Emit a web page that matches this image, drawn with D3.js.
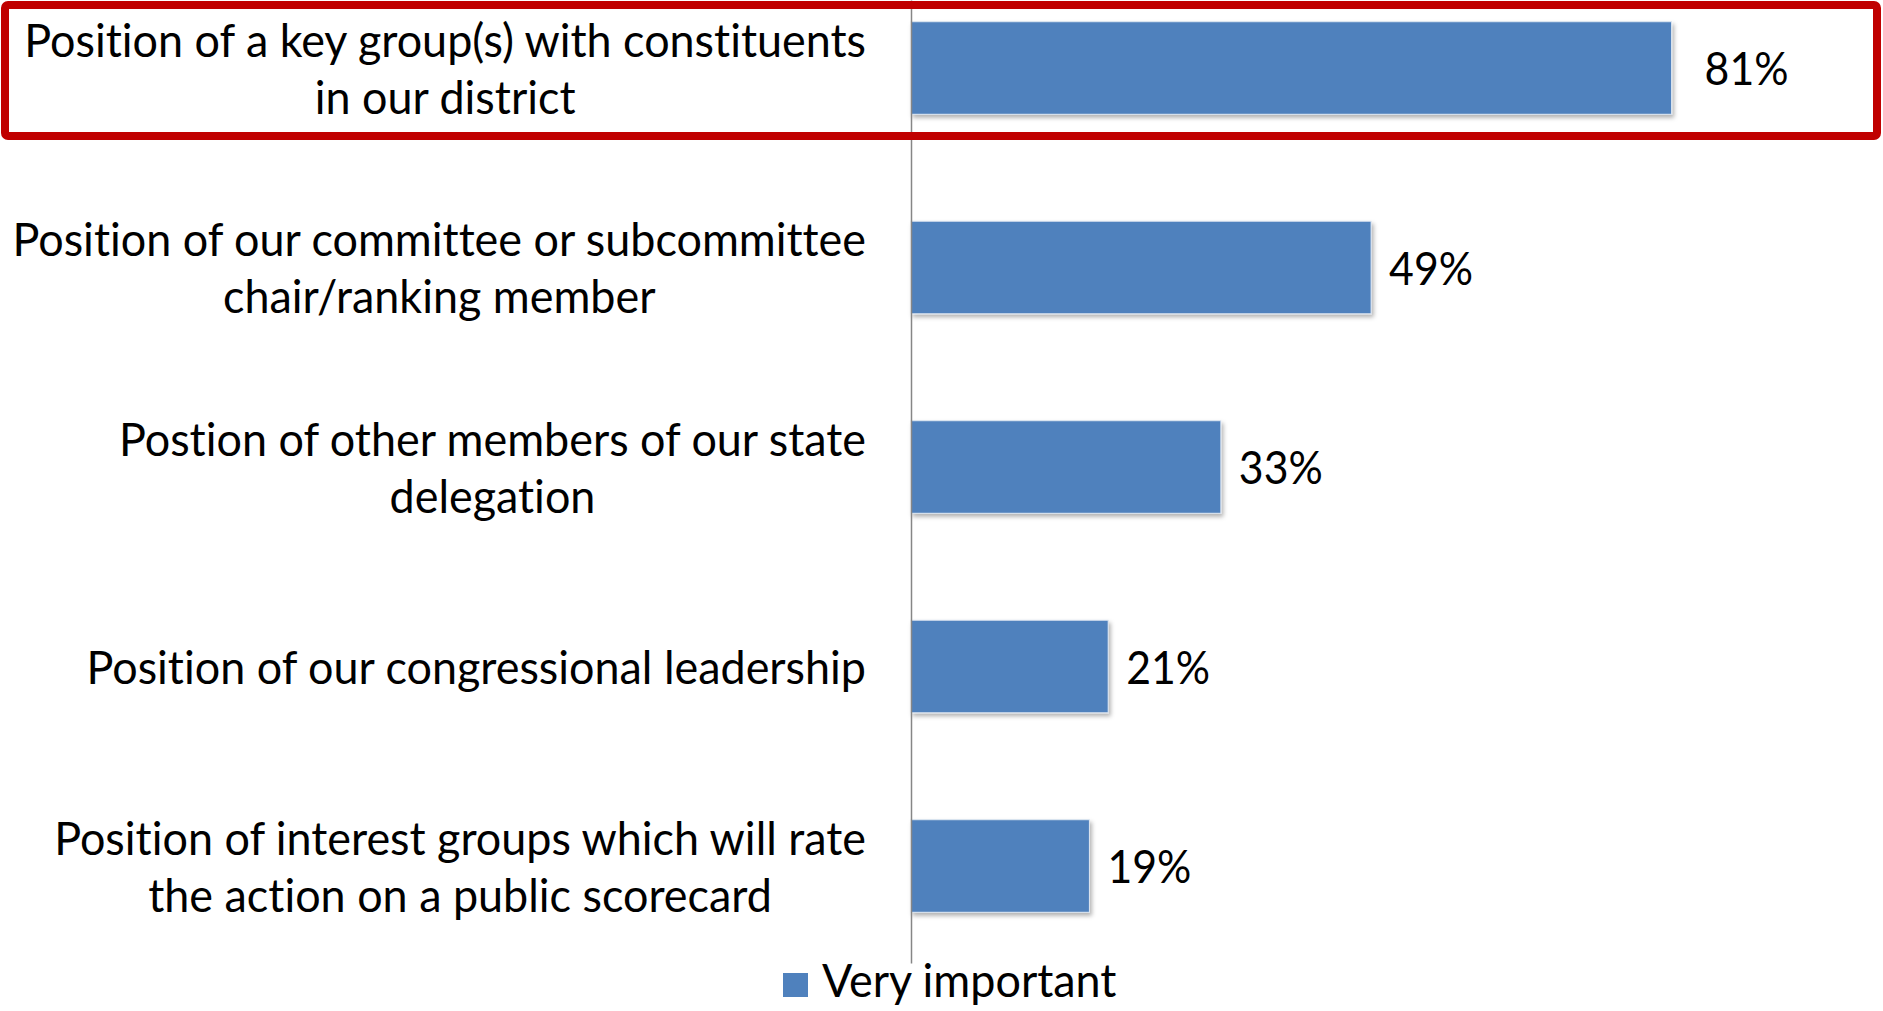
<!DOCTYPE html>
<html><head><meta charset="utf-8">
<script src="https://cdn.jsdelivr.net/npm/d3@7"></script>
<style>
html,body{margin:0;padding:0;background:#fff;}
svg{display:block;}
text{font-family:Lato,"Open Sans",sans-serif;fill:#000;font-variant-ligatures:none;font-feature-settings:"liga" 0,"clig" 0;}
</style></head>
<body>
<svg id="chart" width="1883" height="1011"></svg>
<script>
// ---- data ----
const categories = [
  "Position of a key group(s) with constituents\nin our district",
  "Position of our committee or subcommittee\nchair/ranking member",
  "Postion of other members of our state\ndelegation",
  "Position of our congressional leadership",
  "Position of interest groups which will rate\nthe action on a public scorecard"
];
const values = [0.81, 0.49, 0.33, 0.21, 0.19];
const seriesName = "Very important";
const highlightIndex = 0;

// ---- layout ----
const axisX = 911;
const fontSize = 47;
const capH = 34;
const lineGap = 57;
const labelRight = 866;
const squeezeText = 0.955;
const squeezeNum = 0.91;
const valueGap = 18;
const highlightValueGap = 33;
const barColor = "#4F81BD";

const svg = d3.select("#chart");
const defs = svg.append("defs");
const f = defs.append("filter").attr("id","shadow").attr("x","-5%").attr("y","-10%").attr("width","115%").attr("height","130%");
f.append("feDropShadow").attr("dx",2).attr("dy",3).attr("stdDeviation",2).attr("flood-color","#000").attr("flood-opacity",0.3);

const x = d3.scaleLinear().domain([0,1]).range([axisX, axisX + 939]);
const y = d3.scaleBand().domain(d3.range(categories.length))
  .range([-31.75, 965.75]).paddingInner(0.536).paddingOuter(0.268);

function fitText(sel, k){
  sel.each(function(){
    const w = this.getComputedTextLength();
    d3.select(this).attr("textLength", w*k).attr("lengthAdjust","spacingAndGlyphs");
  });
}

// bars
svg.append("g").selectAll("rect").data(values).join("rect")
  .attr("x", x(0))
  .attr("y", (d,i)=>y(i))
  .attr("width", d=>x(d)-x(0))
  .attr("height", y.bandwidth())
  .attr("fill", barColor)
  .attr("stroke", "#dfe7f1").attr("stroke-width", 1)
  .attr("filter","url(#shadow)");

// axis line
const yAxis = d3.axisLeft(d3.scaleLinear().range([0,963])).ticks(0).tickSize(0).tickFormat("");
svg.append("g").attr("transform",`translate(${axisX},0)`).call(yAxis)
  .call(g=>g.select(".domain").attr("stroke","#868686").attr("stroke-width",1.5));

// value labels
svg.append("g").selectAll("text").data(values).join("text")
  .attr("x", (d,i)=>x(d) + (i===highlightIndex ? highlightValueGap : valueGap))
  .attr("y", (d,i)=>y(i)+y.bandwidth()/2 + capH/2)
  .attr("font-size", fontSize)
  .text(d=>d3.format(".0%")(d))
  .call(fitText, squeezeNum);

// category labels
const lg = svg.append("g");
categories.forEach((c,i)=>{
  const lines = c.split("\n");
  const cy = y(i)+y.bandwidth()/2;
  const g = lg.append("g");
  const ts = g.selectAll("text").data(lines).join("text")
    .attr("text-anchor","middle")
    .attr("font-size", fontSize)
    .attr("y",(d,j)=> cy + (j - (lines.length-1)/2)*lineGap + capH/2)
    .text(d=>d);
  fitText(ts, squeezeText);
  let maxW = 0;
  ts.each(function(){ maxW = Math.max(maxW, +this.getAttribute("textLength")); });
  ts.attr("x", labelRight - maxW/2);
});

// highlight box
svg.append("rect")
  .attr("x",5).attr("y",5).attr("width",1872).attr("height",131)
  .attr("rx",3)
  .attr("fill","none").attr("stroke","#C00000").attr("stroke-width",8);

// legend
const leg = svg.append("g");
leg.append("rect").attr("x",783).attr("y",973).attr("width",25).attr("height",24).attr("fill",barColor);
leg.append("text").attr("x",822).attr("y",997).attr("font-size",fontSize).text(seriesName).call(fitText, squeezeText);
</script>
</body></html>
